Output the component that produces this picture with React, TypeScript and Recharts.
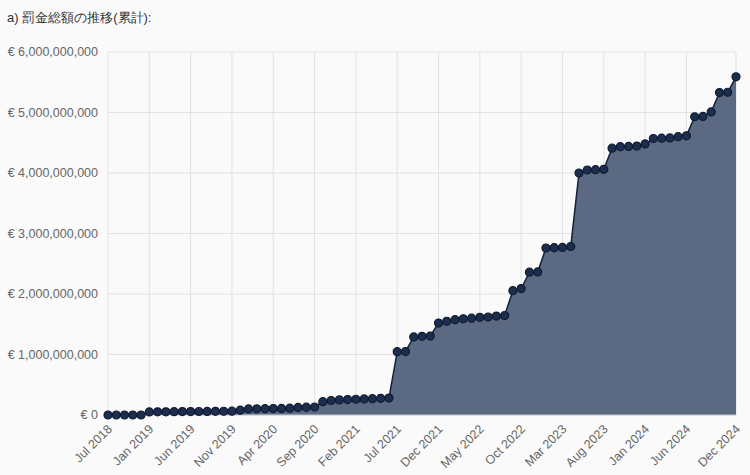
import { Area, AreaChart, CartesianGrid, XAxis, YAxis } from "recharts";

// months on the x axis (Dec 2018 is not in the source series)
const months = [
  "Jul 2018", "Aug 2018", "Sep 2018", "Oct 2018", "Nov 2018",
  "Jan 2019", "Feb 2019", "Mar 2019", "Apr 2019", "May 2019", "Jun 2019",
  "Jul 2019", "Aug 2019", "Sep 2019", "Oct 2019", "Nov 2019", "Dec 2019",
  "Jan 2020", "Feb 2020", "Mar 2020", "Apr 2020", "May 2020", "Jun 2020",
  "Jul 2020", "Aug 2020", "Sep 2020", "Oct 2020", "Nov 2020", "Dec 2020",
  "Jan 2021", "Feb 2021", "Mar 2021", "Apr 2021", "May 2021", "Jun 2021",
  "Jul 2021", "Aug 2021", "Sep 2021", "Oct 2021", "Nov 2021", "Dec 2021",
  "Jan 2022", "Feb 2022", "Mar 2022", "Apr 2022", "May 2022", "Jun 2022",
  "Jul 2022", "Aug 2022", "Sep 2022", "Oct 2022", "Nov 2022", "Dec 2022",
  "Jan 2023", "Feb 2023", "Mar 2023", "Apr 2023", "May 2023", "Jun 2023",
  "Jul 2023", "Aug 2023", "Sep 2023", "Oct 2023", "Nov 2023", "Dec 2023",
  "Jan 2024", "Feb 2024", "Mar 2024", "Apr 2024", "May 2024", "Jun 2024",
  "Jul 2024", "Aug 2024", "Sep 2024", "Oct 2024", "Nov 2024", "Dec 2024",
];

// cumulative fines, billions of euro
const totalsBn = [
  0, 0, 0, 0, 0,
  0.051, 0.052, 0.053, 0.055, 0.056, 0.057,
  0.058, 0.059, 0.06, 0.062, 0.064, 0.08,
  0.1, 0.102, 0.104, 0.106, 0.108, 0.112,
  0.125, 0.13, 0.132, 0.22, 0.24, 0.25,
  0.255, 0.26, 0.265, 0.27, 0.275, 0.28,
  1.046, 1.05, 1.29, 1.3, 1.305, 1.52,
  1.55, 1.575, 1.59, 1.6, 1.615, 1.62,
  1.635, 1.645, 2.055, 2.09, 2.36, 2.365,
  2.76, 2.765, 2.77, 2.785, 4.0, 4.05,
  4.055, 4.06, 4.41, 4.435, 4.44, 4.445,
  4.48, 4.57, 4.575, 4.58, 4.6, 4.615,
  4.93, 4.935, 5.01, 5.33, 5.335, 5.59,
];

const xTicks = [
  "Jul 2018", "Jan 2019", "Jun 2019", "Nov 2019", "Apr 2020", "Sep 2020",
  "Feb 2021", "Jul 2021", "Dec 2021", "May 2022", "Oct 2022", "Mar 2023",
  "Aug 2023", "Jan 2024", "Jun 2024", "Dec 2024",
];

const yTicks = [0, 1e9, 2e9, 3e9, 4e9, 5e9, 6e9];

const data = months.map((month, i) => ({
  month,
  total: Math.round(totalsBn[i] * 1e9),
}));

const font = "'Liberation Sans', Arial, sans-serif";

const formatEuro = (v: number) => `€ ${v.toLocaleString("en-US")}`;

const RotatedTick = ({ x, y, payload }: any) => (
  <g transform={`translate(${x + 2},${y + 4})`}>
    <text
      textAnchor="end"
      transform="rotate(-45)"
      fill="#666"
      fontSize={12.5}
      fontFamily={font}
      dy={4}
    >
      {payload.value}
    </text>
  </g>
);

export default function App() {
  return (
    <div
      style={{
        position: "absolute",
        left: 0,
        top: 0,
        width: 750,
        height: 475,
        background: "#fafafa",
        fontFamily: font,
      }}
    >
      <div
        style={{
          position: "absolute",
          left: 7,
          top: 9,
          fontSize: 13,
          color: "#333",
        }}
      >
        a) 罰金総額の推移(累計):
      </div>
      <AreaChart
        width={750}
        height={475}
        data={data}
        margin={{ top: 52, right: 14, left: 0, bottom: 0 }}
      >
        <CartesianGrid stroke="#e2e2e2" />
        <XAxis
          dataKey="month"
          ticks={xTicks}
          interval={0}
          height={60}
          tick={<RotatedTick />}
          tickLine={false}
          axisLine={{ stroke: "#c8ccd4" }}
        />
        <YAxis
          width={108}
          domain={[0, 6e9]}
          ticks={yTicks}
          tickFormatter={formatEuro}
          tickLine={false}
          axisLine={false}
          tickMargin={4}
          tick={{ fill: "#666", fontSize: 12.5, fontFamily: font }}
        />
        <Area
          type="linear"
          dataKey="total"
          stroke="#14213d"
          strokeWidth={1.5}
          fill="#5b6a82"
          fillOpacity={1}
          dot={{ r: 4, fill: "#1d2d4d", stroke: "#0f1a33", strokeWidth: 1.2 }}
          isAnimationActive={false}
        />
      </AreaChart>
    </div>
  );
}
